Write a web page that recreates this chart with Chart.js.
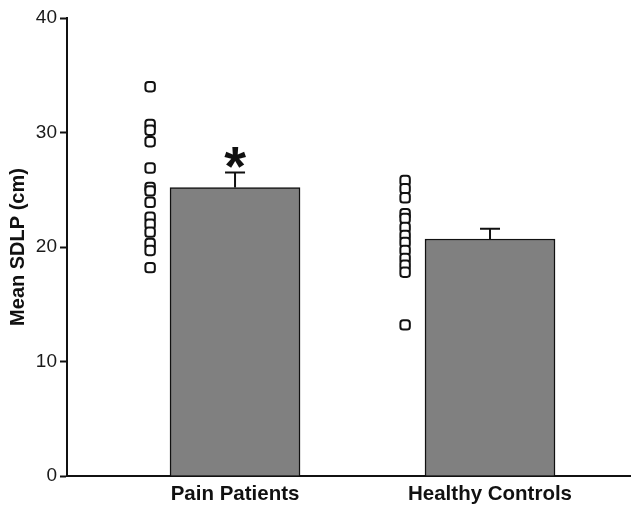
<!DOCTYPE html>
<html>
<head>
<meta charset="utf-8">
<script src="https://cdn.jsdelivr.net/npm/chart.js@4"></script>
<style>
  html, body { margin: 0; padding: 0; background: #fff; }
  #wrap { width: 639px; height: 507px; }
</style>
</head>
<body>
<div id="wrap"><canvas id="c" width="639" height="507"></canvas></div>
<script>
const categories = ['Pain Patients', 'Healthy Controls'];
const meanSDLP = [25.2, 20.7];
const semSDLP = [1.3, 0.9];
const significance = ['*', ''];
const painIndividual = [34.0, 30.7, 30.2, 29.2, 26.9, 25.2, 24.9, 23.9, 22.6, 22.0, 21.3, 20.3, 19.7, 18.2];
const healthyIndividual = [25.8, 25.1, 24.3, 22.9, 22.5, 21.7, 21.0, 20.4, 19.7, 19.0, 18.4, 17.8, 13.2];
const yTicks = [0, 10, 20, 30, 40];

const FONT = "'Liberation Sans', Arial, sans-serif";
const pointOffset = 0.333;
const catPos = categories.map((_, i) => i + 1);

const errorBarPlugin = {
  id: 'errorBars',
  afterDatasetsDraw(chart) {
    const ctx = chart.ctx;
    const xs = chart.scales.x, ys = chart.scales.y;
    ctx.save();
    ctx.strokeStyle = '#111';
    ctx.lineWidth = 2;
    catPos.forEach((p, i) => {
      const x = xs.getPixelForValue(p);
      const yb = ys.getPixelForValue(meanSDLP[i]);
      const yt = ys.getPixelForValue(meanSDLP[i] + semSDLP[i]);
      ctx.beginPath();
      ctx.moveTo(x, yb);
      ctx.lineTo(x, yt);
      ctx.moveTo(x - 10, yt);
      ctx.lineTo(x + 10, yt);
      ctx.stroke();
      if (significance[i]) {
        ctx.fillStyle = '#111';
        ctx.font = 'bold 56px ' + FONT;
        ctx.textAlign = 'center';
        ctx.textBaseline = 'alphabetic';
        const m = ctx.measureText(significance[i]);
        const cy = yt - 15;
        ctx.fillText(significance[i], x, cy + (m.actualBoundingBoxAscent - m.actualBoundingBoxDescent) / 2);
      }
    });
    ctx.restore();
  }
};

new Chart(document.getElementById('c'), {
  data: {
    datasets: [
      {
        type: 'bar',
        data: catPos.map((p, i) => ({ x: p, y: meanSDLP[i] })),
        backgroundColor: '#808080',
        borderColor: '#111',
        borderWidth: 1.5,
        barThickness: 130,
        order: 2
      },
      {
        type: 'scatter',
        data: painIndividual.map(v => ({ x: catPos[0] - pointOffset, y: v })),
        pointStyle: 'rectRounded',
        radius: 5.5,
        backgroundColor: '#fff',
        borderColor: '#111',
        borderWidth: 2,
        order: 1
      },
      {
        type: 'scatter',
        data: healthyIndividual.map(v => ({ x: catPos[1] - pointOffset, y: v })),
        pointStyle: 'rectRounded',
        radius: 5.5,
        backgroundColor: '#fff',
        borderColor: '#111',
        borderWidth: 2,
        order: 1
      }
    ]
  },
  options: {
    responsive: false,
    animation: false,
    events: [],
    layout: { padding: { top: 18, right: 9, left: 0, bottom: 0 } },
    plugins: { legend: { display: false }, tooltip: { enabled: false } },
    scales: {
      x: {
        type: 'linear',
        offset: false,
        min: 0.341,
        max: 2.549,
        grid: { display: false, drawTicks: false, offset: false },
        border: { display: true, color: '#111', width: 2 },
        afterBuildTicks(scale) { scale.ticks = catPos.map(v => ({ value: v })); },
        afterFit(scale) { scale.height = 31; },
        ticks: {
          padding: 6,
          color: '#111',
          font: { family: FONT, size: 20.5, weight: 'bold' },
          callback(v) { return categories[catPos.indexOf(v)] || ''; }
        }
      },
      y: {
        min: 0,
        max: 40,
        afterBuildTicks(scale) { scale.ticks = yTicks.map(v => ({ value: v })); },
        afterFit(scale) { scale.width = 67; },
        grid: { drawOnChartArea: false, drawTicks: true, tickLength: 7, tickColor: '#111', tickWidth: 2 },
        border: { display: true, color: '#111', width: 2 },
        ticks: {
          padding: 3,
          color: '#1a1a1a',
          font: { family: FONT, size: 19 }
        },
        title: {
          display: true,
          text: 'Mean SDLP (cm)',
          color: '#111',
          padding: { top: 6, bottom: 0 },
          font: { family: FONT, size: 20, weight: 'bold' }
        }
      }
    }
  },
  plugins: [errorBarPlugin]
});
</script>
</body>
</html>
